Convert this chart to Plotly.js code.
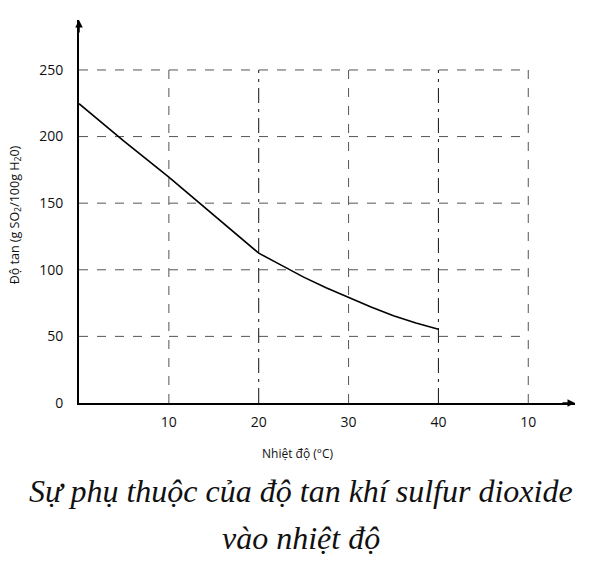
<!DOCTYPE html>
<html>
<head>
<meta charset="utf-8">
<script src="https://cdn.plot.ly/plotly-3.0.1.min.js"></script>
<style>html,body{margin:0;padding:0;background:#fff;}#chart{width:600px;height:561px;}</style>
</head>
<body>
<div id="chart"></div>
<script>
// Data
const temperature = [0, 5, 10, 15, 20, 22.5, 25, 27.5, 30, 32.5, 35, 37.5, 40];
const solubility  = [224.7, 196.5, 169.5, 141, 112.5, 103.5, 94.5, 86.5, 79.0, 72.0, 65.5, 60.0, 55.3];

const xTickVals = [10, 20, 30, 40, 50];
const xTickText = ['10', '20', '30', '40', '10'];
const yTickVals = [0, 50, 100, 150, 200, 250];
const xGridMax = 50;
const yGridMax = 250;
const darkVerticals = [20, 40];

const yTitle = 'Độ tan (g SO<sub>2</sub>/100g H<sub>2</sub>0)';
const xTitle = 'Nhiệt độ (°C)';
const caption1 = 'Sự phụ thuộc của độ tan khí sulfur dioxide';
const caption2 = 'vào nhiệt độ';

const FONT = 'Open Sans, Noto Sans, sans-serif';
const SERIF = 'Liberation Serif, DejaVu Serif, serif';

const shapes = [];
yTickVals.filter(v => v > 0).forEach(v => {
  shapes.push({type: 'line', xref: 'x', yref: 'y', x0: 0, x1: xGridMax, y0: v, y1: v,
    line: {color: '#555', width: 1, dash: 'dash'}, layer: 'below'});
});
xTickVals.forEach(v => {
  const dark = darkVerticals.includes(v);
  shapes.push({type: 'line', xref: 'x', yref: 'y', x0: v, x1: v, y0: 0, y1: yGridMax,
    line: {color: dark ? '#111' : '#555', width: 1, dash: dark ? 'longdashdot' : 'dash'}, layer: 'below'});
});

const trace = {
  x: temperature, y: solubility, type: 'scatter', mode: 'lines',
  line: {color: '#000', width: 1.6},
  hoverinfo: 'skip', showlegend: false
};

const layout = {
  width: 600, height: 561,
  margin: {l: 79, r: 25, t: 20, b: 158},
  paper_bgcolor: '#fff', plot_bgcolor: '#fff',
  font: {family: FONT, color: '#111', size: 14},
  xaxis: {
    range: [0, 55.2], showgrid: false, zeroline: false,
    showline: true, linecolor: '#000', linewidth: 2,
    tickmode: 'array', tickvals: xTickVals, ticktext: xTickText,
    ticks: '', ticklabelstandoff: 5,
    tickfont: {family: FONT, size: 14, color: '#111'},
    fixedrange: true
  },
  yaxis: {
    range: [0, 287.5], showgrid: false, zeroline: false,
    showline: true, linecolor: '#000', linewidth: 2,
    tickmode: 'array', tickvals: yTickVals,
    ticks: '', ticklabelstandoff: 11,
    tickfont: {family: FONT, size: 14, color: '#111'},
    fixedrange: true
  },
  shapes: shapes,
  annotations: [
    {xref: 'paper', yref: 'paper', x: 1, y: 0, ax: -14, ay: 0, text: '',
     showarrow: true, arrowhead: 2, arrowsize: 1, arrowwidth: 1.5, arrowcolor: '#000'},
    {xref: 'paper', yref: 'paper', x: 0, y: 1, ax: 0, ay: 14, text: '',
     showarrow: true, arrowhead: 2, arrowsize: 1, arrowwidth: 1.5, arrowcolor: '#000'},
    {xref: 'paper', yref: 'paper', x: 0, y: 0.49, xshift: -64, textangle: -90,
     text: yTitle, showarrow: false, xanchor: 'center', yanchor: 'middle',
     font: {family: FONT, size: 12.5, color: '#111'}},
    {xref: 'paper', yref: 'paper', x: 0.4415, y: 0, yshift: -50,
     text: xTitle, showarrow: false, xanchor: 'center', yanchor: 'middle',
     font: {family: FONT, size: 12, color: '#111'}},
    {xref: 'paper', yref: 'paper', x: 0.448, y: 0, yshift: -88,
     text: caption1, showarrow: false, xanchor: 'center', yanchor: 'middle',
     font: {family: SERIF, size: 32, color: '#111', style: 'italic'}},
    {xref: 'paper', yref: 'paper', x: 0.448, y: 0, yshift: -135,
     text: caption2, showarrow: false, xanchor: 'center', yanchor: 'middle',
     font: {family: SERIF, size: 32, color: '#111', style: 'italic'}}
  ]
};

Plotly.newPlot('chart', [trace], layout, {displayModeBar: false, staticPlot: true});
</script>
</body>
</html>
